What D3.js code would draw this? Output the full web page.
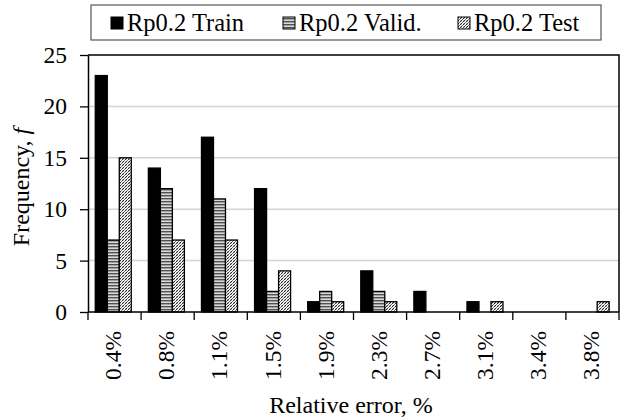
<!DOCTYPE html>
<html>
<head>
<meta charset="utf-8">
<script src="https://cdn.jsdelivr.net/npm/d3@7"></script>
<style>
  html, body { margin: 0; padding: 0; background: #fff; }
  svg { display: block; }
  svg text { font-family: "Liberation Serif", "Times New Roman", serif; fill: #000; }
</style>
</head>
<body>
<svg id="chart" width="621" height="419"></svg>
<script>
// Relative-error bins (category axis)
const categories = ["0.4%", "0.8%", "1.1%", "1.5%", "1.9%", "2.3%", "2.7%", "3.1%", "3.4%", "3.8%"];
// Frequency of each bin per data split
const trainValues = [23, 14, 17, 12, 1, 4, 2, 1, 0, 0];
const validValues = [7, 12, 11, 2, 2, 2, 0, 0, 0, 0];
const testValues  = [15, 7, 7, 4, 1, 1, 0, 1, 0, 1];
const seriesNames = ["Rp0.2 Train", "Rp0.2 Valid.", "Rp0.2 Test"];
const yTicks = [0, 5, 10, 15, 20, 25];

const series = [
  { name: seriesNames[0], values: trainValues, fill: "#000" },
  { name: seriesNames[1], values: validValues, fill: "url(#stripes)" },
  { name: seriesNames[2], values: testValues,  fill: "url(#checks)" }
];

const svg = d3.select("#chart");
const m = { left: 88, right: 619, top: 55, bottom: 312 };
const axisFont = 23.5;
const titleFont = 24;
const legendFont = 24.5;
const serif = "'Liberation Serif', 'Times New Roman', serif";

// Fill patterns
const defs = svg.append("defs");
const stripes = defs.append("pattern").attr("id", "stripes")
  .attr("patternUnits", "userSpaceOnUse").attr("width", 4).attr("height", 3);
stripes.append("rect").attr("width", 4).attr("height", 3).attr("fill", "#d8d8d8");
stripes.append("rect").attr("width", 4).attr("height", 1.4).attr("fill", "#505050");

const checks = defs.append("pattern").attr("id", "checks")
  .attr("patternUnits", "userSpaceOnUse").attr("width", 3).attr("height", 3);
checks.append("rect").attr("width", 3).attr("height", 3).attr("fill", "#fff");
checks.append("path")
  .attr("d", "M0,3L3,0M-1,1L1,-1M2,4L4,2")
  .attr("stroke", "#2a2a2a").attr("stroke-width", 1);
checks.append("path")
  .attr("d", "M0,0L3,3")
  .attr("stroke", "#999").attr("stroke-width", 0.6);

// Scales
const x = d3.scaleBand().domain(categories).range([m.left, m.right]).padding(0);
const bw = x.bandwidth();
const x1 = d3.scaleBand().domain(seriesNames).range([bw * 0.137, bw * 0.815]).padding(0);
const y = d3.scaleLinear().domain([0, 25]).range([m.bottom, m.top]);

// Gridlines
svg.append("g").selectAll("line")
  .data(yTicks.filter(t => t > 0 && t < 25))
  .join("line")
  .attr("x1", m.left).attr("x2", m.right)
  .attr("y1", d => y(d)).attr("y2", d => y(d))
  .attr("stroke", "#d4d4d4").attr("stroke-width", 1.5);

// Bars
const groups = svg.append("g").selectAll("g")
  .data(series).join("g");
groups.selectAll("rect")
  .data(s => s.values.map((v, i) => ({ s, v, c: categories[i] })))
  .join("rect")
  .filter(d => d.v > 0)
  .attr("x", d => x(d.c) + x1(d.s.name))
  .attr("y", d => y(d.v))
  .attr("width", x1.bandwidth())
  .attr("height", d => y(0) - y(d.v))
  .attr("fill", d => d.s.fill)
  .attr("stroke", "#000").attr("stroke-width", 1.3);

// Plot frame (top and right)
svg.append("path")
  .attr("d", `M${m.left},${m.top}H${m.right}V${m.bottom}`)
  .attr("fill", "none").attr("stroke", "#000").attr("stroke-width", 1.5);

// Y axis
const yAxis = svg.append("g")
  .attr("transform", `translate(${m.left},0)`)
  .call(d3.axisLeft(y).tickValues(yTicks).tickSize(8).tickPadding(13).tickSizeOuter(0))
  .attr("font-family", serif).attr("font-size", axisFont);
yAxis.select(".domain").attr("stroke", "#000").attr("stroke-width", 1.5);
yAxis.selectAll(".tick line").attr("stroke", "#000").attr("stroke-width", 1.3);
yAxis.selectAll("text").attr("fill", "#000");

// X axis: ticks sit on category boundaries
const boundaries = d3.range(categories.length + 1).map(i => m.left + i * bw);
const xAxisG = svg.append("g").attr("font-family", serif).attr("font-size", axisFont);
xAxisG.append("line")
  .attr("x1", m.left).attr("x2", m.right)
  .attr("y1", m.bottom).attr("y2", m.bottom)
  .attr("stroke", "#000").attr("stroke-width", 1.5);
xAxisG.selectAll("line.tk").data(boundaries).join("line").attr("class", "tk")
  .attr("x1", d => d).attr("x2", d => d)
  .attr("y1", m.bottom).attr("y2", m.bottom + 8)
  .attr("stroke", "#000").attr("stroke-width", 1.3);
xAxisG.selectAll("text").data(categories).join("text")
  .attr("transform", d => `translate(${x(d) + bw / 2 - 1.5},${m.bottom + 19}) rotate(-90)`)
  .attr("text-anchor", "end").attr("dy", "0.35em")
  .text(d => d);

// Axis titles
svg.append("text")
  .attr("x", 351).attr("y", 413)
  .attr("text-anchor", "middle").attr("font-size", titleFont).attr("font-family", serif)
  .text("Relative error, %");

const yTitle = svg.append("text")
  .attr("transform", `translate(21,187) rotate(-90)`)
  .attr("text-anchor", "middle").attr("dy", "0.35em")
  .attr("font-size", titleFont).attr("font-family", serif);
yTitle.append("tspan").text("Frequency, ");
yTitle.append("tspan").attr("font-style", "italic").text("f");

// Legend
const legend = svg.append("g").attr("font-family", serif).attr("font-size", legendFont);
legend.append("rect")
  .attr("x", 91).attr("y", 5).attr("width", 510).attr("height", 35)
  .attr("fill", "#fff").attr("stroke", "#555").attr("stroke-width", 1.2);
const legendX = [111, 283, 458];
const items = legend.selectAll("g.item").data(series).join("g").attr("class", "item")
  .attr("transform", (d, i) => `translate(${legendX[i]},0)`);
items.append("rect")
  .attr("x", 0).attr("y", 17).attr("width", 12).attr("height", 12)
  .attr("fill", d => d.fill).attr("stroke", "#000").attr("stroke-width", 1);
items.append("text")
  .attr("x", 16).attr("y", 31)
  .text(d => d.name);
</script>
</body>
</html>
